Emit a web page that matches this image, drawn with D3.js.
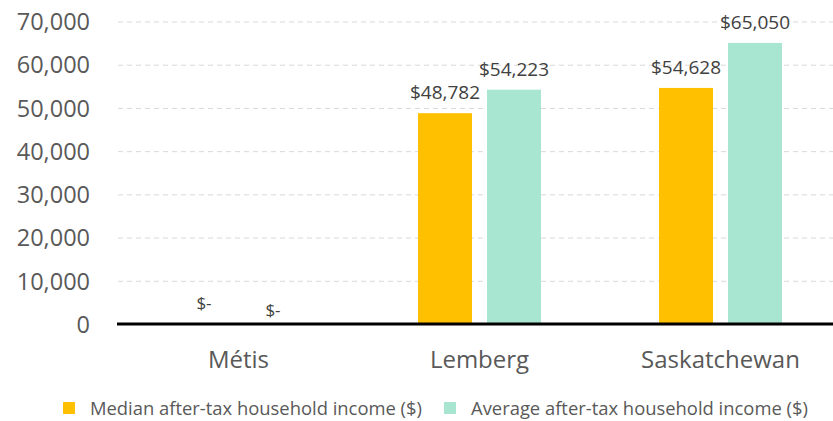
<!DOCTYPE html>
<html>
<head>
<meta charset="utf-8">
<script src="https://cdn.jsdelivr.net/npm/d3@7"></script>
<style>
  body { margin: 0; background: #fff; }
  text { font-family: "Open Sans", "Noto Sans", sans-serif; }
</style>
</head>
<body>
<div id="chart"></div>
<script>
const width = 833,
    height = 421;
const margin = { top: 21.5, right: -8, bottom: 97, left: 118 };

const categories = ["Métis", "Lemberg", "Saskatchewan"];
const seriesNames = [
    "Median after-tax household income ($)",
    "Average after-tax household income ($)",
];
const medianIncome = [0, 48782, 54628];
const averageIncome = [0, 54223, 65050];
const yTicks = [0, 10000, 20000, 30000, 40000, 50000, 60000, 70000];
const colors = ["#FFC000", "#A9E6D2"];

const svg = d3
    .select("#chart")
    .append("svg")
    .attr("width", width)
    .attr("height", height);

const x = d3
    .scaleBand()
    .domain(categories)
    .range([margin.left, width - margin.right]);
const xInner = d3
    .scaleBand()
    .domain([0, 1])
    .range([0, 123])
    .paddingInner(0.217);
const y = d3
    .scaleLinear()
    .domain([0, 70000])
    .range([height - margin.bottom, margin.top]);

// gridlines
svg.append("g")
    .attr("transform", `translate(${margin.left}, 0)`)
    .call(
        d3.axisLeft(y)
            .tickValues(yTicks.slice(1))
            .tickSize(-(width - margin.left))
            .tickFormat("")
    )
    .call((g) => g.select(".domain").remove())
    .call((g) =>
        g.selectAll("line")
            .attr("stroke", "#d9d9d9")
            .attr("stroke-width", 1)
            .attr("stroke-dasharray", "5,4")
    );

// y labels
svg.append("g")
    .attr("transform", `translate(${margin.left - 28}, 0)`)
    .call(d3.axisLeft(y).tickValues(yTicks).tickSize(0).tickPadding(0).tickFormat(d3.format(",")))
    .call((g) => g.select(".domain").remove())
    .call((g) =>
        g.selectAll("text")
            .attr("fill", "#595959")
            .style("font-size", "23.5px")
            .attr("dy", "0.35em")
    );

const rows = categories.map((c, i) => ({
    cat: c,
    values: [medianIncome[i], averageIncome[i]],
}));

const groups = svg
    .selectAll(".grp")
    .data(rows)
    .join("g")
    .attr("class", "grp")
    .attr("transform", (d) => `translate(${x(d.cat) + x.bandwidth() / 2 - 61.5}, 0)`);

groups
    .selectAll("rect")
    .data((d) => d.values)
    .join("rect")
    .attr("x", (d, i) => xInner(i))
    .attr("width", xInner.bandwidth())
    .attr("y", (d) => y(d))
    .attr("height", (d) => y(0) - y(d))
    .attr("fill", (d, i) => colors[i]);

groups
    .selectAll(".lbl")
    .data((d) => d.values)
    .join("text")
    .attr("class", "lbl")
    .attr("x", (d, i) => xInner(i) + xInner.bandwidth() / 2)
    .attr("y", (d, i) => (d === 0 ? y(0) - (i === 0 ? 15 : 8) : y(d) - 14))
    .attr("text-anchor", "middle")
    .attr("fill", "#404040")
    .style("font-size", (d) => (d === 0 ? "17px" : "19px"))
    .text((d) => (d === 0 ? "$-" : "$" + d3.format(",")(d)));

// x axis
svg.append("line")
    .attr("x1", margin.left - 1)
    .attr("x2", width)
    .attr("y1", y(0))
    .attr("y2", y(0))
    .attr("stroke", "#000")
    .attr("stroke-width", 3);

svg.append("g")
    .selectAll("text")
    .data(categories)
    .join("text")
    .attr("x", (d) => x(d) + x.bandwidth() / 2)
    .attr("y", 368)
    .attr("text-anchor", "middle")
    .attr("fill", "#595959")
    .style("font-size", "24px")
    .text((d) => d);

// legend
const legendX = [63, 444];
const legend = svg
    .selectAll(".legend")
    .data(seriesNames)
    .join("g")
    .attr("class", "legend")
    .attr("transform", (d, i) => `translate(${legendX[i]}, 402)`);
legend.append("rect")
    .attr("width", 12)
    .attr("height", 12)
    .attr("fill", (d, i) => colors[i]);
legend.append("text")
    .attr("x", 27)
    .attr("y", 12.5)
    .attr("fill", "#595959")
    .style("font-size", "18.4px")
    .text((d) => d);
</script>
</body>
</html>
